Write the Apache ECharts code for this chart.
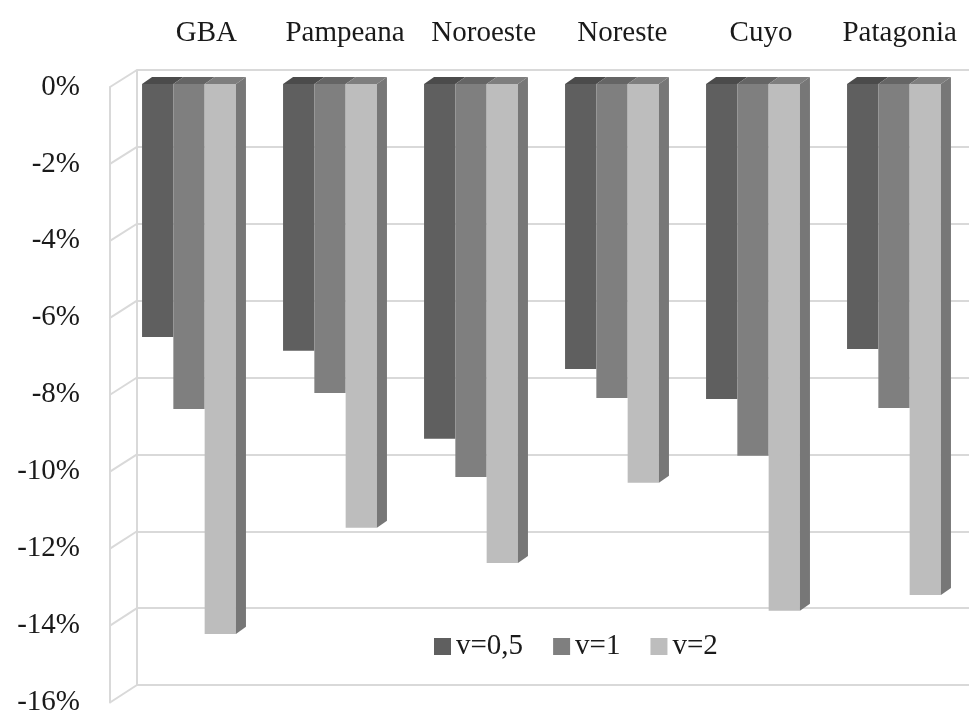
<!DOCTYPE html>
<html>
<head>
<meta charset="utf-8">
<script src="https://cdn.jsdelivr.net/npm/echarts@6/dist/echarts.min.js"></script>
<style>html,body{margin:0;padding:0;background:#fff;}#c{width:969px;height:717px;}</style>
</head>
<body>
<div id="c"></div>
<script>
const categories = ['GBA', 'Pampeana', 'Noroeste', 'Noreste', 'Cuyo', 'Patagonia'];
const seriesNames = ['v=0,5', 'v=1', 'v=2'];
const valuesV05 = [-6.56, -6.92, -9.20, -7.39, -8.17, -6.87];
const valuesV1 = [-8.43, -8.01, -10.19, -8.14, -9.64, -8.40];
const valuesV2 = [-14.26, -11.51, -12.42, -10.34, -13.66, -13.25];
const yTicks = [0, -2, -4, -6, -8, -10, -12, -14, -16];

const FONT = 'Liberation Serif';
const GRID_COLOR = '#d9d9d9';
const frontColors = ['#5f5f5f', '#7f7f7f', '#bdbdbd'];
const topColors = ['#4b4b4b', '#656565', '#7e7e7e'];
const SIDE_COLOR = '#777777';

const chart = echarts.init(document.getElementById('c'));

function barRenderer(idx) {
  return function (params, api) {
    const ci = api.value(0);
    const val = api.value(1);
    const c = api.coord([ci, 0]);
    const b = api.coord([ci, val]);
    const band = api.size([1, 0])[0];
    const w = band * 0.222;
    const x0 = c[0] - 1.5 * w + idx * w;
    const x1 = x0 + w;
    const y0 = c[1];
    const y1 = b[1];
    const dx = band * 0.071;
    const dy = band * 0.05;
    const children = [
      { type: 'rect', shape: { x: x0, y: y0, width: w, height: y1 - y0 }, style: { fill: frontColors[idx] } },
      { type: 'polygon', shape: { points: [[x0, y0], [x1, y0], [x1 + dx, y0 - dy], [x0 + dx, y0 - dy]] }, style: { fill: topColors[idx] } }
    ];
    if (idx === 2) {
      children.push({ type: 'polygon', shape: { points: [[x1, y0], [x1 + dx, y0 - dy], [x1 + dx, y1 - dy], [x1, y1]] }, style: { fill: SIDE_COLOR } });
    }
    return { type: 'group', children: children };
  };
}

const allValues = [valuesV05, valuesV1, valuesV2];
const barSeries = allValues.map(function (arr, idx) {
  return {
    name: seriesNames[idx],
    type: 'custom',
    xAxisIndex: 2,
    yAxisIndex: 2,
    itemStyle: { color: frontColors[idx] },
    renderItem: barRenderer(idx),
    encode: { x: 0, y: 1 },
    data: arr.map(function (v, i) { return [i, v]; }),
    z: 5 + idx
  };
});

const wallSeries = {
  type: 'custom',
  name: 'wall',
  xAxisIndex: 0,
  yAxisIndex: 0,
  silent: true,
  clip: false,
  encode: { x: 0, y: 1 },
  data: yTicks.map(function (v) { return [0, v]; }),
  renderItem: function (params, api) {
    const v = api.value(1);
    const back = api.coord([0, v]);
    const bx = params.coordSys.x;
    const front = chart.convertToPixel({ gridIndex: 1 }, [0, v]);
    return {
      type: 'line',
      shape: { x1: front[0], y1: front[1], x2: bx, y2: back[1] },
      style: { stroke: GRID_COLOR, lineWidth: 2 }
    };
  },
  z: 1
};

chart.setOption({
  animation: false,
  backgroundColor: '#ffffff',
  textStyle: { fontFamily: FONT },
  grid: [
    { left: 137, top: 70, width: 846, height: 615 },
    { left: 110, top: 87, width: 27, height: 618 },
    { left: 118.5, top: 84, width: 846, height: 617 }
  ],
  xAxis: [
    {
      gridIndex: 0, type: 'category', data: categories, position: 'top',
      axisLine: { show: false }, axisTick: { show: false },
      axisLabel: { interval: 0, fontSize: 29, fontFamily: FONT, color: '#1a1a1a', margin: 22 }
    },
    { gridIndex: 1, type: 'value', min: 0, max: 1, show: false },
    { gridIndex: 2, type: 'category', data: categories, show: false }
  ],
  yAxis: [
    {
      gridIndex: 0, type: 'value', min: -16, max: 0, interval: 2,
      axisLine: { show: true, lineStyle: { color: GRID_COLOR, width: 2 } },
      axisTick: { show: false }, axisLabel: { show: false },
      splitLine: { show: true, lineStyle: { color: GRID_COLOR, width: 2 } }
    },
    {
      gridIndex: 1, type: 'value', min: -16, max: 0, interval: 2,
      axisLine: { show: true, lineStyle: { color: GRID_COLOR, width: 2 } },
      axisTick: { show: false }, splitLine: { show: false },
      axisLabel: { formatter: function (v) { return v + '%'; }, fontSize: 29, fontFamily: FONT, color: '#1a1a1a', margin: 30 }
    },
    { gridIndex: 2, type: 'value', min: -16, max: 0, interval: 2, show: false }
  ],
  legend: {
    data: seriesNames.map(function (n) { return { name: n, icon: 'rect' }; }),
    left: 429, top: 627,
    itemWidth: 17, itemHeight: 17, itemGap: 30,
    textStyle: { fontSize: 29, fontFamily: FONT, color: '#1a1a1a', padding: [0, 0, 0, 0] },
    selectedMode: false
  },
  series: [wallSeries].concat(barSeries)
});
</script>
</body>
</html>
